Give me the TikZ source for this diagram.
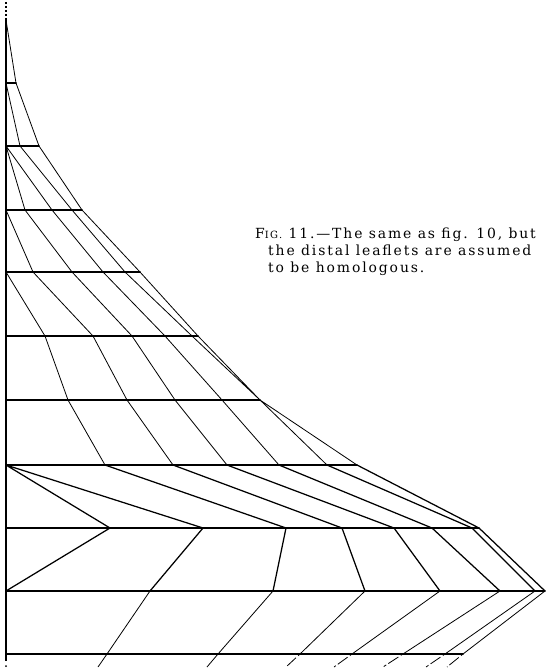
\documentclass[tikz,border=0pt]{standalone}
\usepackage{fontspec}
\setmainfont{DejaVu Serif}
\newfontfamily\capfont[LetterSpace=13.5]{DejaVu Serif}
\begin{document}
\begin{tikzpicture}[x=1bp,y=-1bp,
  rung/.style={line width=1.7bp, line cap=round},
  axisline/.style={line width=1.7bp},
  spoke/.style={line width=0.8bp},
  heavyspoke/.style={line width=1.25bp},
  tailsolid/.style={line width=0.8bp},
  taildash/.style={line width=0.8bp, dash pattern=on 2.5bp off 3bp on 12bp},
  captext/.style={anchor=base west, inner sep=0pt, font=\capfont\fontsize{14}{17}\selectfont}]
\useasboundingbox (0,0) rectangle (546,671);
% base points on the axis
\foreach \y [count=\k from 0] in {20,83,146,210,272,336,400,465,528,591,654}
  \coordinate (B\k) at (6,\y);
% points on each rung
\foreach \x [count=\i] in {16} \coordinate (P1-\i) at (\x,83);
\foreach \x [count=\i] in {20,39} \coordinate (P2-\i) at (\x,146);
\foreach \x [count=\i] in {25,52,72,82} \coordinate (P3-\i) at (\x,210);
\foreach \x [count=\i] in {33,72,103,125,140} \coordinate (P4-\i) at (\x,272);
\foreach \x [count=\i] in {45,93,132,165,192,198} \coordinate (P5-\i) at (\x,336);
\foreach \x [count=\i] in {68,127,175,222,260} \coordinate (P6-\i) at (\x,400);
\foreach \x [count=\i] in {105,173,227,279,327,357} \coordinate (P7-\i) at (\x,465);
\foreach \x [count=\i] in {110,203,286,342,394,432,472,479} \coordinate (P8-\i) at (\x,528);
\foreach \x [count=\i] in {150,273,365,440,500,535,545} \coordinate (P9-\i) at (\x,591);
\foreach \x [count=\i] in {107,218,300,352,403,445,463} \coordinate (P10-\i) at (\x,654);
% tail ends below the last rung
\coordinate (T1) at (98,667);
\coordinate (T2) at (207,667);
\coordinate (T3) at (286,667);
\coordinate (T4) at (334,667);
\coordinate (T5) at (383,667);
\coordinate (T6) at (426,667);
\coordinate (T7) at (447,667);
\coordinate (Atop) at (6,2);
\coordinate (Abot) at (6,661);
\coordinate (Adot) at (6,666);
% axis
\draw[axisline] (B0) -- (Abot);
\draw[line width=1.2bp, dash pattern=on 2bp off 2bp] (Atop) -- (B0);
\fill (Adot) circle (1bp);
% rungs
\draw[rung] (B1) -- (P1-1);
\draw[rung] (B2) -- (P2-2);
\draw[rung] (B3) -- (P3-4);
\draw[rung] (B4) -- (P4-5);
\draw[rung] (B5) -- (P5-6);
\draw[rung] (B6) -- (P6-5);
\draw[rung] (B7) -- (P7-6);
\draw[rung] (B8) -- (P8-8);
\draw[rung] (B9) -- (P9-7);
\draw[rung] (B10) -- (P10-7);
% spokes
\draw[spoke] (B0) -- (P1-1);
\draw[spoke] (B1) -- (P2-1) (P1-1) -- (P2-2);
\draw[spoke] (B2) -- (P3-1) (B2) -- (P3-2) (P2-1) -- (P3-3) (P2-2) -- (P3-4);
\draw[spoke] (B3) -- (P4-1) (P3-1) -- (P4-2) (P3-2) -- (P4-3) (P3-3) -- (P4-4) (P3-4) -- (P4-5);
\draw[spoke] (B4) -- (P5-1) (P4-1) -- (P5-2) (P4-2) -- (P5-3) (P4-3) -- (P5-4) (P4-4) -- (P5-5) (P4-5) -- (P5-6);
\draw[spoke] (P5-1) -- (P6-1) (P5-2) -- (P6-2) (P5-3) -- (P6-3) (P5-4) -- (P6-4) (P5-5) -- (P6-5) (P5-6) -- (P6-5);
\draw[spoke] (P6-1) -- (P7-1) (P6-2) -- (P7-2) (P6-3) -- (P7-3) (P6-4) -- (P7-4) (P6-5) -- (P7-5) (P6-5) -- (P7-6);
\draw[heavyspoke] (B7) -- (P8-1) (B7) -- (P8-2) (P7-1) -- (P8-3) (P7-2) -- (P8-4) (P7-3) -- (P8-5) (P7-4) -- (P8-6) (P7-5) -- (P8-7) (P7-6) -- (P8-8);
\draw[heavyspoke] (P8-1) -- (B9) (P8-2) -- (P9-1) (P8-3) -- (P9-2) (P8-4) -- (P9-3) (P8-5) -- (P9-4) (P8-6) -- (P9-5) (P8-7) -- (P9-6) (P8-8) -- (P9-7);
\draw[spoke] (P9-1) -- (P10-1) (P9-2) -- (P10-2) (P9-3) -- (P10-3) (P9-4) -- (P10-4) (P9-5) -- (P10-5) (P9-6) -- (P10-6) (P9-7) -- (P10-7);
% tails
\draw[tailsolid] (P10-1) -- (T1) (P10-2) -- (T2);
\draw[taildash] (P10-3) -- (T3) (P10-4) -- (T4) (P10-5) -- (T5) (P10-6) -- (T6) (P10-7) -- (T7);
% caption
\node[captext] (cap1) at (255,238) {F{\fontsize{10}{12}\selectfont IG.} 11.—The same as fig. 10, but};
\node[captext] (cap2) at (268,255) {the distal leaflets are assumed};
\node[captext] (cap3) at (268,272) {to be homologous.};
\end{tikzpicture}
\end{document}
